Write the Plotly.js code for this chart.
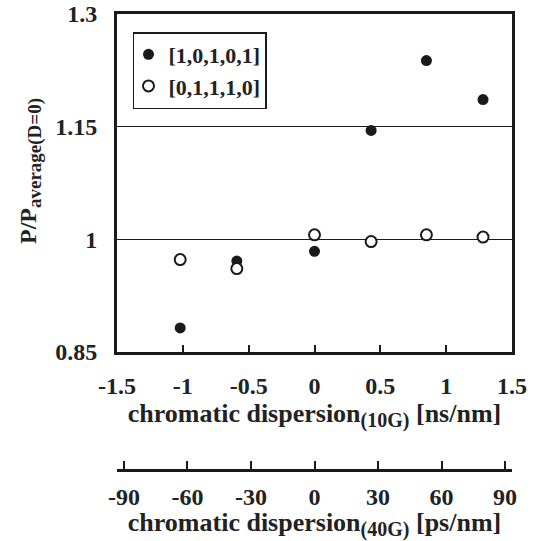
<!DOCTYPE html>
<html>
<head>
<meta charset="utf-8">
<script src="https://cdn.plot.ly/plotly-3.0.1.min.js"></script>
<style>html,body{margin:0;padding:0;background:#fff;}#chart{width:539px;height:541px;}</style>
</head>
<body>
<div id="chart"></div>
<script>
// Data
const dispersion10G = [-1.02, -0.59, 0, 0.43, 0.85, 1.28];
const pattern10101 = [0.882, 0.971, 0.984, 1.145, 1.238, 1.186];
const pattern01110 = [0.973, 0.961, 1.006, 0.997, 1.006, 1.003];
const seriesNames = ['[1,0,1,0,1]', '[0,1,1,1,0]'];
const xTicks10G = [-1.5, -1, -0.5, 0, 0.5, 1, 1.5];
const yTicks = [0.85, 1, 1.15, 1.3];
const yTickLabels = ['0.85', '1', '1.15', '1.3'];
const xTicks40G = [-90, -60, -30, 0, 30, 60, 90];

const FONT = 'Liberation Serif';
const tickFont = {family: FONT, size: 24, color: '#222', weight: 'bold'};
const titleFont = {family: FONT, size: 26, color: '#222', weight: 'bold'};
const yTitleFont = {family: FONT, size: 24, color: '#222', weight: 'bold'};
const b = s => '<b>' + s + '</b>';
const sub = (s, px) => '<sub><span style="font-size:' + px + 'px">' + s + '</span></sub>';

const traces = [
  {
    x: dispersion10G, y: pattern10101, name: b(seriesNames[0]),
    type: 'scatter', mode: 'markers', xaxis: 'x', yaxis: 'y',
    marker: {symbol: 'circle', size: 11, color: '#1a1a1a', line: {width: 0}}
  },
  {
    x: dispersion10G, y: pattern01110, name: b(seriesNames[1]),
    type: 'scatter', mode: 'markers', xaxis: 'x', yaxis: 'y',
    marker: {symbol: 'circle', size: 11, color: '#ffffff', line: {width: 2, color: '#1a1a1a'}}
  },
  {
    x: [null], y: [null], xaxis: 'x2', yaxis: 'y', type: 'scatter', mode: 'markers',
    showlegend: false, hoverinfo: 'skip'
  }
];

const layout = {
  width: 539, height: 541,
  margin: {l: 117, r: 27, t: 14, b: 71},
  paper_bgcolor: '#fff', plot_bgcolor: '#fff',
  font: tickFont,
  showlegend: true,
  legend: {
    x: 0.0405, y: 0.9605, xanchor: 'left', yanchor: 'top',
    bgcolor: '#fff', bordercolor: '#1a1a1a', borderwidth: 1.5,
    font: {family: FONT, size: 22, color: '#222', weight: 'bold'},
    itemwidth: 30, tracegroupgap: 0, indentation: -6
  },
  xaxis: {
    domain: [0, 1],
    range: [-1.5, 1.5],
    tickvals: xTicks10G, ticktext: xTicks10G.map(v => b(String(v))),
    ticks: 'inside', ticklen: 7, tickwidth: 2, tickcolor: '#1a1a1a',
    showline: true, linewidth: 3, linecolor: '#1a1a1a', mirror: true,
    showgrid: false, zeroline: false,
    tickfont: tickFont,
    ticklabelstandoff: 10,
    title: {text: b('chromatic dispersion' + sub('(10G)', 20) + ' [ns/nm]'), font: titleFont, standoff: 2},
    anchor: 'y'
  },
  xaxis2: {
    overlaying: 'x', anchor: 'free', position: 0, side: 'bottom',
    range: [-93.3, 93.3],
    tickvals: xTicks40G, ticktext: xTicks40G.map(v => b(String(v))),
    ticks: 'inside', ticklen: 8, tickwidth: 2, tickcolor: '#1a1a1a',
    showline: true, linewidth: 3, linecolor: '#1a1a1a',
    showgrid: false, zeroline: false,
    tickfont: tickFont,
    ticklabelstandoff: 4,
    title: {text: b('chromatic dispersion' + sub('(40G)', 20) + ' [ps/nm]'), font: titleFont, standoff: 5}
  },
  yaxis: {
    domain: [0.2588, 1],
    range: [0.85, 1.3],
    tickvals: yTicks, ticktext: yTickLabels.map(b),
    ticks: '', showgrid: true, gridcolor: '#1a1a1a', gridwidth: 1.5,
    showline: true, linewidth: 3, linecolor: '#1a1a1a', mirror: true,
    zeroline: false,
    tickfont: tickFont,
    ticklabelstandoff: 12,
    title: {text: b('&nbsp;&nbsp;&nbsp;&nbsp;P/P' + sub('average(D=0)', 19)), font: yTitleFont, standoff: 12}
  }
};

Plotly.newPlot('chart', traces, layout, {displayModeBar: false, staticPlot: true});
</script>
</body>
</html>
